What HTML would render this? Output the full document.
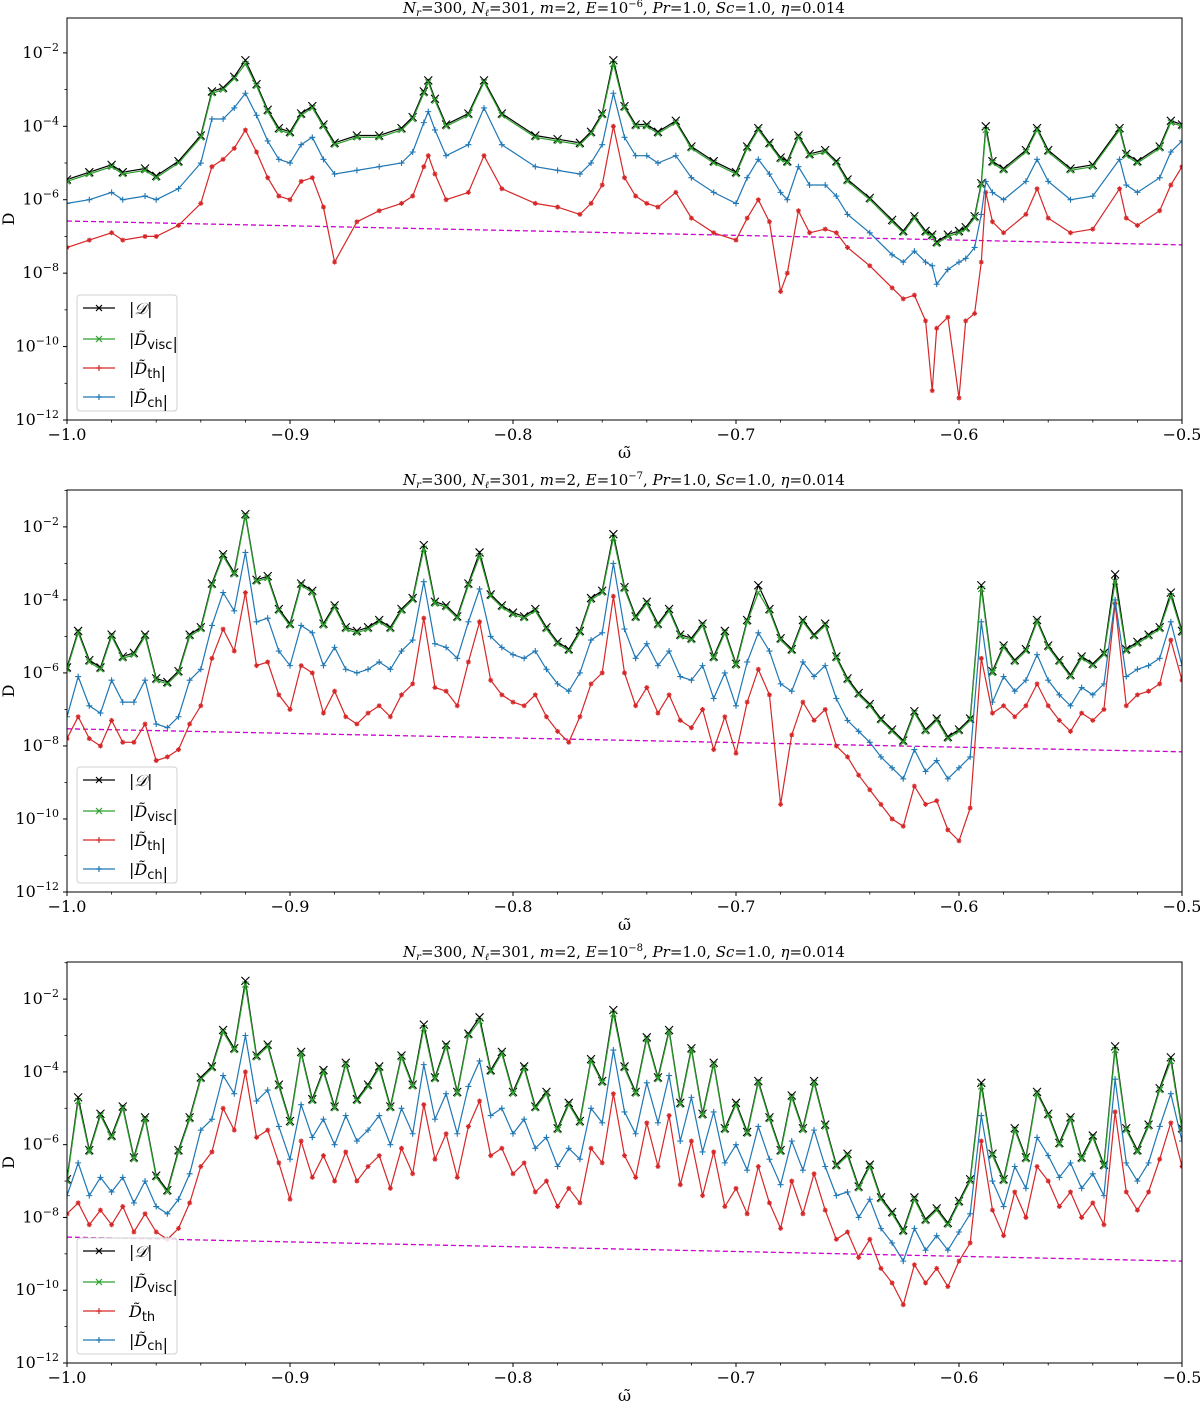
<!DOCTYPE html>
<html><head><meta charset="utf-8">
<style>
html,body{margin:0;padding:0;background:#fff;}
svg{display:block;font-family:"DejaVu Sans","Liberation Sans",sans-serif;}
.tick{font-family:"DejaVu Serif","Liberation Serif",serif;font-size:16px;}
.title{font-family:"DejaVu Serif","Liberation Serif",serif;font-size:15px;}
</style></head>
<body>
<svg id="chart" width="1200" height="1403" viewBox="0 0 1200 1403" xmlns="http://www.w3.org/2000/svg"></svg>
<script>
// ---- data (log10 values) ----
const omega1 = [-1.0,-0.99,-0.98,-0.975,-0.965,-0.96,-0.95,-0.94,-0.935,-0.93,-0.925,-0.92,-0.915,-0.91,-0.905,-0.9,-0.895,-0.89,-0.885,-0.88,-0.87,-0.86,-0.85,-0.845,-0.84,-0.838,-0.835,-0.83,-0.82,-0.813,-0.805,-0.79,-0.78,-0.77,-0.765,-0.76,-0.755,-0.75,-0.745,-0.74,-0.735,-0.727,-0.72,-0.71,-0.7,-0.695,-0.69,-0.685,-0.68,-0.677,-0.672,-0.667,-0.66,-0.655,-0.65,-0.64,-0.63,-0.625,-0.62,-0.615,-0.612,-0.61,-0.605,-0.6,-0.597,-0.593,-0.59,-0.588,-0.585,-0.58,-0.57,-0.565,-0.56,-0.55,-0.54,-0.528,-0.525,-0.52,-0.51,-0.505,-0.5];
const green1 = [-5.5,-5.3,-5.1,-5.3,-5.2,-5.4,-5.0,-4.3,-3.1,-3.0,-2.7,-2.3,-2.9,-3.6,-4.1,-4.2,-3.7,-3.5,-4.0,-4.5,-4.3,-4.3,-4.1,-3.8,-3.1,-2.8,-3.3,-4.0,-3.7,-2.8,-3.7,-4.3,-4.4,-4.5,-4.2,-3.7,-2.3,-3.5,-4.0,-4.0,-4.2,-3.9,-4.6,-5.0,-5.3,-4.6,-4.1,-4.5,-4.9,-5.0,-4.3,-4.8,-4.7,-5.0,-5.5,-6.0,-6.6,-6.9,-6.5,-6.9,-7.0,-7.2,-7.0,-6.9,-6.8,-6.5,-5.6,-4.1,-5.0,-5.2,-4.7,-4.1,-4.7,-5.2,-5.1,-4.1,-4.8,-5.0,-4.6,-3.9,-4.0];
const black1 = [-5.45,-5.25,-5.05,-5.25,-5.15,-5.35,-4.95,-4.25,-3.05,-2.95,-2.65,-2.2,-2.85,-3.55,-4.05,-4.15,-3.65,-3.45,-3.95,-4.45,-4.25,-4.25,-4.05,-3.75,-3.05,-2.75,-3.25,-3.95,-3.65,-2.75,-3.65,-4.25,-4.35,-4.45,-4.15,-3.65,-2.2,-3.45,-3.95,-3.95,-4.15,-3.85,-4.55,-4.95,-5.25,-4.55,-4.05,-4.45,-4.85,-4.95,-4.25,-4.75,-4.65,-4.95,-5.45,-5.95,-6.55,-6.85,-6.45,-6.85,-6.95,-7.15,-6.95,-6.85,-6.75,-6.45,-5.55,-4.0,-4.95,-5.15,-4.65,-4.05,-4.65,-5.15,-5.05,-4.05,-4.75,-4.95,-4.55,-3.85,-3.95];
const blue1 = [-6.1,-6.0,-5.8,-6.0,-5.9,-6.0,-5.7,-5.0,-3.8,-3.8,-3.5,-3.1,-3.7,-4.4,-4.9,-5.0,-4.5,-4.3,-4.9,-5.3,-5.2,-5.1,-5.0,-4.7,-3.9,-3.6,-4.1,-4.8,-4.5,-3.5,-4.5,-5.1,-5.2,-5.3,-5.0,-4.5,-3.1,-4.3,-4.8,-4.8,-5.0,-4.8,-5.4,-5.8,-6.1,-5.4,-4.9,-5.3,-5.8,-6.0,-5.1,-5.6,-5.6,-5.9,-6.4,-6.9,-7.5,-7.7,-7.4,-7.7,-7.8,-8.3,-7.9,-7.7,-7.6,-7.3,-6.4,-5.5,-5.8,-6.0,-5.5,-4.9,-5.5,-6.0,-5.9,-4.9,-5.6,-5.8,-5.4,-4.7,-4.4];
const red1 = [-7.3,-7.1,-6.9,-7.1,-7.0,-7.0,-6.7,-6.1,-5.1,-4.9,-4.6,-4.1,-4.7,-5.4,-5.9,-6.0,-5.5,-5.4,-6.2,-7.7,-6.6,-6.3,-6.1,-5.9,-5.1,-4.8,-5.3,-6.0,-5.8,-4.8,-5.7,-6.1,-6.2,-6.4,-6.1,-5.6,-4.0,-5.4,-5.9,-6.1,-6.2,-5.8,-6.5,-6.9,-7.1,-6.5,-6.0,-6.6,-8.5,-8.0,-6.3,-6.9,-6.8,-6.9,-7.3,-7.8,-8.4,-8.7,-8.6,-9.3,-11.2,-9.5,-9.2,-11.4,-9.3,-9.1,-7.7,-5.8,-6.6,-6.9,-6.4,-5.7,-6.5,-6.9,-6.8,-5.7,-6.5,-6.7,-6.3,-5.6,-5.1];
const dashEnds1 = [-6.58,-7.23];

const omegaGrid = [-1.0,-0.995,-0.99,-0.985,-0.98,-0.975,-0.97,-0.965,-0.96,-0.955,-0.95,-0.945,-0.94,-0.935,-0.93,-0.925,-0.92,-0.915,-0.91,-0.905,-0.9,-0.895,-0.89,-0.885,-0.88,-0.875,-0.87,-0.865,-0.86,-0.855,-0.85,-0.845,-0.84,-0.835,-0.83,-0.825,-0.82,-0.815,-0.81,-0.805,-0.8,-0.795,-0.79,-0.785,-0.78,-0.775,-0.77,-0.765,-0.76,-0.755,-0.75,-0.745,-0.74,-0.735,-0.73,-0.725,-0.72,-0.715,-0.71,-0.705,-0.7,-0.695,-0.69,-0.685,-0.68,-0.675,-0.67,-0.665,-0.66,-0.655,-0.65,-0.645,-0.64,-0.635,-0.63,-0.625,-0.62,-0.615,-0.61,-0.605,-0.6,-0.595,-0.59,-0.585,-0.58,-0.575,-0.57,-0.565,-0.56,-0.555,-0.55,-0.545,-0.54,-0.535,-0.53,-0.525,-0.52,-0.515,-0.51,-0.505,-0.5];

const green2 = [-5.9,-4.9,-5.7,-5.9,-5.0,-5.6,-5.5,-5.0,-6.2,-6.3,-6.0,-5.0,-4.8,-3.6,-2.8,-3.3,-1.7,-3.5,-3.4,-4.3,-4.7,-3.6,-3.8,-4.7,-4.2,-4.8,-4.9,-4.8,-4.6,-4.8,-4.3,-4.0,-2.6,-4.1,-4.2,-4.5,-3.6,-2.8,-3.9,-4.2,-4.4,-4.5,-4.3,-4.8,-5.2,-5.4,-4.9,-4.0,-3.8,-2.3,-3.7,-4.5,-4.1,-4.7,-4.3,-5.0,-5.1,-4.7,-5.6,-4.9,-5.8,-4.6,-3.8,-4.3,-5.1,-5.4,-4.6,-5.0,-4.7,-5.6,-6.2,-6.6,-6.9,-7.3,-7.6,-7.9,-7.1,-7.6,-7.3,-7.8,-7.6,-7.3,-3.7,-6.0,-5.3,-5.7,-5.4,-4.6,-5.3,-5.7,-6.1,-5.6,-5.8,-5.5,-3.5,-5.4,-5.2,-5.0,-4.8,-3.9,-4.9];
const black2 = [-5.85,-4.85,-5.65,-5.85,-4.95,-5.55,-5.45,-4.95,-6.15,-6.25,-5.95,-4.95,-4.75,-3.55,-2.75,-3.25,-1.65,-3.45,-3.35,-4.25,-4.65,-3.55,-3.75,-4.65,-4.15,-4.75,-4.85,-4.75,-4.55,-4.75,-4.25,-3.95,-2.5,-4.05,-4.15,-4.45,-3.55,-2.7,-3.85,-4.15,-4.35,-4.45,-4.25,-4.75,-5.15,-5.35,-4.85,-3.95,-3.75,-2.2,-3.65,-4.45,-4.05,-4.65,-4.25,-4.95,-5.05,-4.65,-5.55,-4.85,-5.75,-4.55,-3.6,-4.25,-5.05,-5.35,-4.55,-4.95,-4.65,-5.55,-6.15,-6.55,-6.85,-7.25,-7.55,-7.85,-7.05,-7.55,-7.25,-7.75,-7.55,-7.25,-3.6,-5.95,-5.25,-5.65,-5.35,-4.55,-5.25,-5.65,-6.05,-5.55,-5.75,-5.45,-3.3,-5.35,-5.15,-4.95,-4.75,-3.8,-4.85];
const blue2 = [-7.2,-6.1,-6.9,-7.1,-6.2,-6.8,-6.8,-6.2,-7.4,-7.5,-7.2,-6.2,-5.9,-4.7,-3.8,-4.3,-2.7,-4.6,-4.5,-5.4,-5.8,-4.7,-4.9,-5.8,-5.3,-5.9,-6.0,-5.9,-5.7,-5.9,-5.4,-5.1,-3.5,-5.2,-5.3,-5.6,-4.6,-3.7,-5.0,-5.3,-5.5,-5.6,-5.4,-5.9,-6.3,-6.5,-6.0,-5.1,-4.9,-3.0,-4.8,-5.6,-5.2,-5.8,-5.4,-6.1,-6.2,-5.8,-6.7,-6.0,-6.9,-5.7,-4.9,-5.4,-6.3,-6.5,-5.7,-6.1,-5.8,-6.7,-7.3,-7.6,-7.9,-8.3,-8.6,-8.9,-8.1,-8.7,-8.4,-8.9,-8.6,-8.3,-4.6,-6.8,-6.1,-6.5,-6.2,-5.5,-6.2,-6.6,-6.9,-6.4,-6.6,-6.3,-4.0,-6.1,-5.9,-5.8,-5.6,-4.6,-5.8];
const red2 = [-7.8,-7.2,-7.8,-8.0,-7.3,-7.9,-7.9,-7.4,-8.4,-8.3,-8.1,-7.4,-6.9,-5.6,-4.8,-5.4,-3.8,-5.8,-5.7,-6.6,-7.0,-5.8,-6.0,-7.1,-6.5,-7.2,-7.4,-7.1,-6.9,-7.2,-6.6,-6.3,-4.5,-6.4,-6.5,-6.9,-5.7,-4.6,-6.2,-6.6,-6.8,-6.9,-6.6,-7.2,-7.6,-7.9,-7.2,-6.3,-6.0,-3.9,-6.0,-6.9,-6.4,-7.1,-6.6,-7.3,-7.5,-7.0,-8.1,-7.2,-8.2,-6.8,-5.9,-6.6,-9.6,-7.7,-6.8,-7.3,-7.0,-8.0,-8.3,-8.8,-9.2,-9.6,-10.0,-10.2,-9.1,-9.6,-9.5,-10.3,-10.6,-9.7,-5.6,-7.1,-6.9,-7.2,-6.9,-6.3,-6.9,-7.3,-7.6,-7.1,-7.3,-7.0,-4.1,-6.9,-6.6,-6.5,-6.3,-5.1,-6.2];
const dashEnds2 = [-7.53,-8.16];

const green3 = [-7.0,-4.8,-6.2,-5.2,-5.8,-5.0,-6.4,-5.3,-6.9,-7.3,-6.2,-5.3,-4.2,-3.9,-2.9,-3.4,-1.6,-3.6,-3.3,-4.4,-5.4,-3.5,-4.8,-4.0,-5.0,-3.8,-4.8,-4.4,-3.9,-5.0,-3.6,-4.4,-2.8,-4.2,-3.3,-4.6,-3.0,-2.6,-4.0,-3.5,-4.6,-3.9,-5.0,-4.6,-5.6,-4.9,-5.4,-3.7,-4.3,-2.4,-3.9,-4.6,-3.1,-4.2,-2.9,-4.9,-3.4,-5.2,-3.8,-5.6,-4.9,-5.7,-4.3,-5.3,-6.2,-4.7,-5.6,-4.3,-5.5,-6.6,-6.3,-7.2,-6.6,-7.5,-7.9,-8.4,-7.5,-8.1,-7.8,-8.2,-7.6,-7.0,-4.4,-6.3,-7.0,-5.6,-6.4,-4.6,-5.2,-6.0,-5.3,-6.4,-5.8,-6.6,-3.4,-5.6,-6.2,-5.5,-4.5,-3.7,-5.6];
const black3 = [-6.95,-4.7,-6.15,-5.15,-5.75,-4.95,-6.35,-5.25,-6.85,-7.25,-6.15,-5.25,-4.15,-3.85,-2.85,-3.35,-1.5,-3.55,-3.25,-4.35,-5.35,-3.45,-4.75,-3.95,-4.95,-3.75,-4.75,-4.35,-3.85,-4.95,-3.55,-4.35,-2.7,-4.15,-3.25,-4.55,-2.95,-2.5,-3.95,-3.45,-4.55,-3.85,-4.95,-4.55,-5.55,-4.85,-5.35,-3.65,-4.25,-2.3,-3.85,-4.55,-3.05,-4.15,-2.85,-4.85,-3.35,-5.15,-3.75,-5.55,-4.85,-5.65,-4.25,-5.25,-6.15,-4.65,-5.55,-4.25,-5.45,-6.55,-6.25,-7.15,-6.55,-7.45,-7.85,-8.35,-7.45,-8.05,-7.75,-8.15,-7.55,-6.95,-4.3,-6.25,-6.95,-5.55,-6.35,-4.55,-5.15,-5.95,-5.25,-6.35,-5.75,-6.55,-3.3,-5.55,-6.15,-5.45,-4.45,-3.6,-5.55];
const blue3 = [-7.4,-6.5,-7.4,-6.9,-7.3,-6.9,-7.6,-7.0,-7.7,-7.9,-7.5,-6.8,-5.6,-5.3,-4.1,-4.6,-3.0,-4.8,-4.5,-5.5,-6.4,-4.9,-5.8,-5.3,-6.0,-5.2,-5.9,-5.6,-5.2,-6.0,-5.0,-5.7,-3.8,-5.3,-4.6,-5.7,-4.4,-3.7,-5.2,-5.0,-5.7,-5.3,-6.1,-5.8,-6.6,-6.1,-6.4,-5.0,-5.4,-3.4,-5.1,-5.7,-4.3,-5.4,-4.1,-5.9,-4.7,-6.2,-5.1,-6.5,-6.0,-6.7,-5.5,-6.4,-7.1,-5.9,-6.7,-5.6,-6.6,-7.4,-7.3,-8.0,-7.5,-8.3,-8.7,-9.2,-8.3,-8.9,-8.5,-8.9,-8.4,-7.9,-5.2,-7.0,-7.7,-6.6,-7.2,-5.8,-6.3,-6.9,-6.5,-7.2,-6.8,-7.4,-4.2,-6.5,-7.0,-6.5,-5.5,-4.6,-5.9];
const red3 = [-7.9,-7.6,-8.2,-7.8,-8.2,-7.7,-8.4,-7.9,-8.4,-8.6,-8.3,-7.6,-6.6,-6.2,-5.0,-5.6,-4.0,-5.8,-5.6,-6.5,-7.5,-5.9,-6.9,-6.3,-7.0,-6.2,-7.0,-6.6,-6.3,-7.2,-6.1,-6.8,-4.9,-6.4,-5.7,-6.9,-5.5,-4.8,-6.3,-6.1,-6.8,-6.5,-7.3,-7.0,-7.7,-7.2,-7.6,-6.1,-6.5,-4.6,-6.3,-6.9,-5.4,-6.6,-5.2,-7.1,-5.9,-7.4,-6.2,-7.7,-7.2,-7.9,-6.6,-7.6,-8.3,-7.0,-7.9,-6.8,-7.8,-8.6,-8.4,-9.1,-8.6,-9.4,-9.8,-10.4,-9.3,-9.8,-9.4,-9.9,-9.2,-8.7,-5.9,-7.8,-8.5,-7.3,-8.0,-6.6,-7.0,-7.7,-7.3,-8.0,-7.6,-8.2,-5.1,-7.3,-7.8,-7.3,-6.4,-5.4,-6.6];
const dashEnds3 = [-8.54,-9.2];

const xTicks = [-1.0,-0.9,-0.8,-0.7,-0.6,-0.5];
const xTickLabels = ["\u22121.0","\u22120.9","\u22120.8","\u22120.7","\u22120.6","\u22120.5"];
const yTicks = [-12,-10,-8,-6,-4,-2];
const yTickExps = ["\u221212","\u221210","\u22128","\u22126","\u22124","\u22122"];
const Eexps = ["\u22126","\u22127","\u22128"];

const NS="http://www.w3.org/2000/svg";
const svg=document.getElementById('chart');
function mk(tag,attrs,parent){const e=document.createElementNS(NS,tag);for(const k in attrs)e.setAttribute(k,attrs[k]);(parent||svg).appendChild(e);return e;}

const panels=[
 {top:18,bottom:420,ymax:-1.05,om:omega1,k:black1,g:green1,r:red1,b:blue1,d:dashEnds1,thAbs:true},
 {top:490,bottom:892,ymax:-0.99,om:omegaGrid,k:black2,g:green2,r:red2,b:blue2,d:dashEnds2,thAbs:true},
 {top:962,bottom:1363,ymax:-0.98,om:omegaGrid,k:black3,g:green3,r:red3,b:blue3,d:dashEnds3,thAbs:false}
];
const X0=67,X1=1182;

panels.forEach((p,pi)=>{
 const g=mk('g',{});
 
 
 const sx=v=>X0+(v-(-1.0))/(0.5)*(X1-X0);
 const sy=v=>p.bottom-(v-(-12))/(p.ymax-(-12))*(p.bottom-p.top);
 const clip=mk('clipPath',{id:'clip'+pi},g);
 mk('rect',{x:X0,y:p.top,width:X1-X0,height:p.bottom-p.top},clip);
 // dashed line
 const dl=mk('line',{x1:sx(-1),y1:sy(p.d[0]),x2:sx(-0.5),y2:sy(p.d[1]),stroke:'#d000d0','stroke-width':1.3,'stroke-dasharray':'5,3','clip-path':'url(#clip'+pi+')'},g);
 
 
 const series=[
  {arr:p.k,color:'#000000',mk:'x',ms:4,name:'series-abs-D'},
  {arr:p.g,color:'#2ca02c',mk:'x',ms:3,name:'series-visc'},
  {arr:p.r,color:'#d62728',mk:'star',ms:2.5,name:'series-th'},
  {arr:p.b,color:'#1f77b4',mk:'plus',ms:3,name:'series-ch'}
 ];
 series.forEach(s=>{
  const sg=mk('g',{'clip-path':'url(#clip'+pi+')'},g);
  
  
  const pts=p.om.map((o,i)=>sx(o).toFixed(1)+','+sy(s.arr[i]).toFixed(1)).join(' ');
  mk('polyline',{points:pts,fill:'none',stroke:s.color,'stroke-width':1.2},sg);
  let d='';
  p.om.forEach((o,i)=>{
   const x=sx(o),y=sy(s.arr[i]),m=s.ms;
   if(s.mk==='x') d+=`M${x-m},${y-m}L${x+m},${y+m}M${x-m},${y+m}L${x+m},${y-m}`;
   else if(s.mk==='plus') d+=`M${x-m},${y}L${x+m},${y}M${x},${y-m}L${x},${y+m}`;
   else d+=`M${x-m},${y}L${x+m},${y}M${x},${y-m}L${x},${y+m}M${x-m*0.7},${y-m*0.7}L${x+m*0.7},${y+m*0.7}M${x-m*0.7},${y+m*0.7}L${x+m*0.7},${y-m*0.7}`;
  });
  mk('path',{d:d,stroke:s.color,'stroke-width':1.1,fill:'none'},sg);
 });
 // frame
 const fr=mk('rect',{x:X0,y:p.top,width:X1-X0,height:p.bottom-p.top,fill:'none',stroke:'#000','stroke-width':1},g);
 
 
 // x ticks
 xTicks.forEach((t,i)=>{
  mk('line',{x1:sx(t),y1:p.bottom,x2:sx(t),y2:p.bottom+4,stroke:'#000'},g);
  const tx=mk('text',{x:sx(t),y:p.bottom+20,'text-anchor':'middle',class:'tick'},g);
  tx.textContent=xTickLabels[i];
  
  
 });
 for(let k=1;k<25;k++){ if(k%5===0) continue; const v=-1+k*0.02; mk('line',{x1:sx(v),y1:p.bottom,x2:sx(v),y2:p.bottom+2.5,stroke:'#000','stroke-width':0.8},g);}
 // y ticks
 yTicks.forEach((t,i)=>{
  mk('line',{x1:X0-4,y1:sy(t),x2:X0,y2:sy(t),stroke:'#000'},g);
  const tx=mk('text',{x:X0-8,y:sy(t)+5,'text-anchor':'end',class:'tick'},g);
  
  
  const a=mk('tspan',{},tx); a.textContent='10';
  const b=mk('tspan',{dy:-7,'font-size':11},tx); b.textContent=yTickExps[i];
 });
 for(let v=-11;v<=-1;v+=2){ if(sy(v)<p.top) continue; mk('line',{x1:X0-2.5,y1:sy(v),x2:X0,y2:sy(v),stroke:'#000','stroke-width':0.8},g);}
 // axis labels
 const xl=mk('text',{x:(X0+X1)/2,y:p.bottom+38,'text-anchor':'middle',class:'tick','font-size':17},g);
 xl.textContent='\u03C9\u0303';
 
 
 const cy=(p.top+p.bottom)/2;
 const yl=mk('text',{x:14,y:cy,'text-anchor':'middle',class:'tick',transform:`rotate(-90 14 ${cy})`},g);
 yl.textContent='D';
 
 
 // title
 const tt=mk('text',{x:624,y:p.top-5,'text-anchor':'middle',class:'title'},g);
 
 
 tt.innerHTML=`<tspan font-style="italic">N</tspan><tspan font-style="italic" font-size="10" dy="3">r</tspan><tspan dy="-3">=300,  </tspan><tspan font-style="italic">N</tspan><tspan font-style="italic" font-size="10" dy="3">\u2113</tspan><tspan dy="-3">=301,  </tspan><tspan font-style="italic">m</tspan><tspan>=2,  </tspan><tspan font-style="italic">E</tspan><tspan>=10</tspan><tspan font-size="10" dy="-6">${Eexps[pi]}</tspan><tspan dy="6">,  </tspan><tspan font-style="italic">Pr</tspan><tspan>=1.0,  </tspan><tspan font-style="italic">Sc</tspan><tspan>=1.0,  </tspan><tspan font-style="italic">\u03B7</tspan><tspan>=0.014</tspan>`;
 // legend
 const lg=mk('g',{},g);
 
 
 mk('rect',{x:77,y:p.bottom-125,width:100,height:116,rx:3,fill:'#fff','fill-opacity':0.85,stroke:'#d0d0d0'},lg);
 const rows=[{c:'#000',t:'D',sub:'',abs:true,cal:true,m:'x'},{c:'#2ca02c',t:'D',sub:'visc',abs:true,m:'x'},{c:'#d62728',t:'D',sub:'th',abs:p.thAbs,m:'star'},{c:'#1f77b4',t:'D',sub:'ch',abs:true,m:'plus'}];
 const offs=[112,81,52,23];
 rows.forEach((r,i)=>{
  const y=p.bottom-offs[i];
  const e=mk('g',{},lg);
  
  
  mk('line',{x1:83,y1:y,x2:115,y2:y,stroke:r.c,'stroke-width':1.3},e);
  const m=3,x=99;
  let d = r.m==='x'?`M${x-m},${y-m}L${x+m},${y+m}M${x-m},${y+m}L${x+m},${y-m}`:`M${x-m},${y}L${x+m},${y}M${x},${y-m}L${x},${y+m}`;
  mk('path',{d:d,stroke:r.c,'stroke-width':1.2},e);
  const tx=mk('text',{x:129,y:y+6,'font-size':17,class:'tick'},e);
  let h='';
  if(r.abs) h+='<tspan>|</tspan>';
  if(r.cal) h+='<tspan font-style="italic" font-family="DejaVu Serif,serif">\u{1D49F}</tspan>';
  else h+='<tspan font-style="italic">D\u0303</tspan><tspan font-size="13" dy="4" font-family="DejaVu Sans,sans-serif">'+r.sub+'</tspan><tspan dy="-4"></tspan>';
  if(r.abs) h+='<tspan>|</tspan>';
  tx.innerHTML=h;
 });
});
</script>
</body></html>
